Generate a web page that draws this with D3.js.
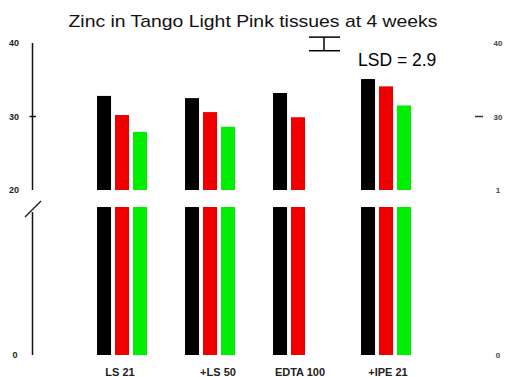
<!DOCTYPE html>
<html><head><meta charset="utf-8">
<script src="https://cdn.jsdelivr.net/npm/d3@7/dist/d3.min.js"></script>
<style>
html,body{margin:0;padding:0;background:#fff;}
svg{display:block;font-family:"Liberation Sans",Arial,sans-serif;}
</style></head>
<body>
<svg id="chart" width="529" height="377"></svg>
<script>
const title = "Zinc in Tango Light Pink tissues at 4 weeks";
const categories = ["LS 21", "+LS 50", "EDTA 100", "+IPE 21"];
const seriesNames = ["A", "B", "C"];
const seriesColors = ["#000000", "#ee0000", "#00ee00"];
const seriesA = [32.8, 32.5, 33.2, 35.1];
const seriesB = [30.2, 30.6, 29.9, 34.1];
const seriesC = [27.9, 28.6, null, 31.5];
const upperTicks = [40, 30, 20];
const lowerTicks = [0];
const rightTicks = ["40", "30", "1", "0"];
const lsdLabel = "LSD = 2.9";
const lsdRange = [38.95, 40.8];
const breakValue = 20;

const svg = d3.select("#chart");
const yUpper = d3.scaleLinear().domain([20, 40]).range([190, 43]);
const yLower = d3.scaleLinear().domain([0, 20]).range([355, 207]);
const x0 = d3.scaleBand().domain(categories).range([78, 430]).paddingInner(0.432).paddingOuter(0.216);
const x1 = d3.scaleBand().domain(seriesNames).range([0, x0.bandwidth()]).paddingInner(0.22);
const seriesVals = [seriesA, seriesB, seriesC];

// title
svg.append("text").attr("x", 253).attr("y", 27).attr("text-anchor", "middle")
  .attr("font-size", 17).attr("textLength", 369).attr("lengthAdjust", "spacingAndGlyphs")
  .attr("fill", "#111").text(title);

// bars
categories.forEach((c, i) => {
  seriesNames.forEach((s, j) => {
    const v = seriesVals[j][i];
    if (v == null) return;
    const x = x0(c) + x1(s);
    const w = x1.bandwidth();
    svg.append("rect").attr("x", x).attr("width", w)
      .attr("y", yUpper(v)).attr("height", yUpper(breakValue) - yUpper(v))
      .attr("fill", seriesColors[j]);
    svg.append("rect").attr("x", x).attr("width", w)
      .attr("y", yLower(breakValue)).attr("height", yLower(0) - yLower(breakValue))
      .attr("fill", seriesColors[j]);
  });
});

// left axis (broken)
const ax = 32.5;
svg.append("line").attr("x1", ax).attr("x2", ax).attr("y1", yUpper(40)).attr("y2", yUpper(20))
  .attr("stroke", "#111").attr("stroke-width", 1.5);
svg.append("line").attr("x1", ax).attr("x2", ax).attr("y1", 212).attr("y2", yLower(0))
  .attr("stroke", "#111").attr("stroke-width", 1.5);
svg.append("line").attr("x1", 25).attr("y1", 217).attr("x2", 41).attr("y2", 201)
  .attr("stroke", "#222").attr("stroke-width", 1.5);
svg.append("line").attr("x1", 29.5).attr("x2", 36).attr("y1", yUpper(30)).attr("y2", yUpper(30))
  .attr("stroke", "#111").attr("stroke-width", 1.5);
upperTicks.forEach(t => {
  svg.append("text").attr("x", 14).attr("y", yUpper(t) + 3).attr("text-anchor", "middle")
    .attr("font-size", 9).attr("font-weight", "bold").attr("fill", "#222").text(t);
});
lowerTicks.forEach(t => {
  svg.append("text").attr("x", 15).attr("y", yLower(t) + 3).attr("text-anchor", "middle")
    .attr("font-size", 9).attr("font-weight", "bold").attr("fill", "#222").text(t);
});

// right side faint labels
const rightY = [yUpper(40), yUpper(30), yUpper(20), yLower(0)];
rightTicks.forEach((t, i) => {
  svg.append("text").attr("x", 498).attr("y", rightY[i] + 3).attr("text-anchor", "middle")
    .attr("font-size", 8).attr("font-weight", "bold").attr("fill", "#444").text(t);
});
svg.append("line").attr("x1", 475).attr("x2", 483).attr("y1", yUpper(30)).attr("y2", yUpper(30))
  .attr("stroke", "#333").attr("stroke-width", 1.5);

// LSD bar
const lx = 324;
svg.append("line").attr("x1", 309).attr("x2", 340).attr("y1", yUpper(lsdRange[1])).attr("y2", yUpper(lsdRange[1])).attr("stroke", "#000").attr("stroke-width", 1.5);
svg.append("line").attr("x1", 309).attr("x2", 340).attr("y1", yUpper(lsdRange[0])).attr("y2", yUpper(lsdRange[0])).attr("stroke", "#000").attr("stroke-width", 1.5);
svg.append("line").attr("x1", lx).attr("x2", lx).attr("y1", yUpper(lsdRange[1])).attr("y2", yUpper(lsdRange[0])).attr("stroke", "#000").attr("stroke-width", 1.5);
svg.append("text").attr("x", 358).attr("y", 66).attr("font-size", 17.5).attr("fill", "#000").text(lsdLabel);

// x labels
const labelX = [120, 218, 300, 388];
categories.forEach((c, i) => {
  svg.append("text").attr("x", labelX[i]).attr("y", 376).attr("text-anchor", "middle")
    .attr("font-size", 11).attr("font-weight", "bold").attr("fill", "#222").text(c);
});
</script>
</body></html>
